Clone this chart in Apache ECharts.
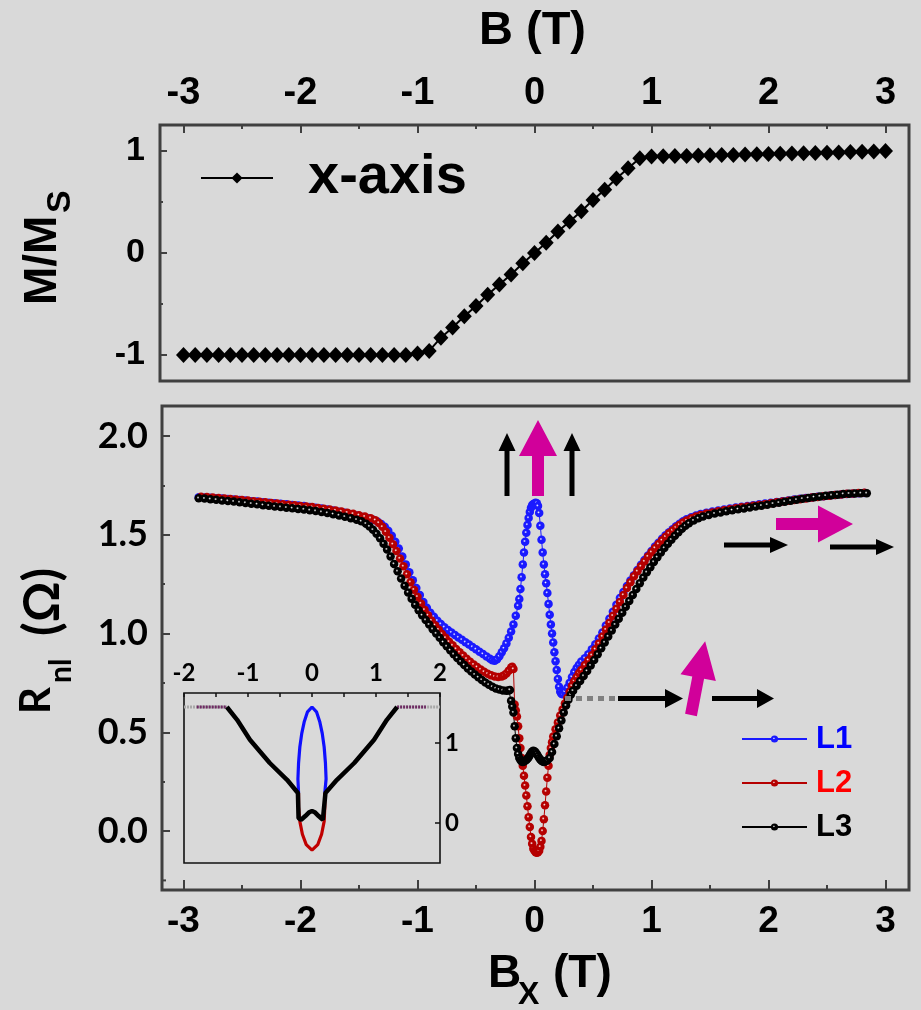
<!DOCTYPE html>
<html><head><meta charset="utf-8">
<script src="https://cdn.jsdelivr.net/npm/echarts@6/dist/echarts.min.js"></script>
<style>html,body{margin:0;padding:0;background:#d9d9d9}#c{width:921px;height:1010px}</style>
</head><body><div id="c"></div>
<script>
// ---------- data ----------
const B_TOP = [-3.0,-2.9,-2.8,-2.7,-2.6,-2.5,-2.4,-2.3,-2.2,-2.1,-2.0,-1.9,-1.8,-1.7,-1.6,-1.5,-1.4,-1.3,-1.2,-1.1,-1.0,-0.9,-0.8,-0.7,-0.6,-0.5,-0.4,-0.3,-0.2,-0.1,0.0,0.1,0.2,0.3,0.4,0.5,0.6,0.7,0.8,0.9,1.0,1.1,1.2,1.3,1.4,1.5,1.6,1.7,1.8,1.9,2.0,2.1,2.2,2.3,2.4,2.5,2.6,2.7,2.8,2.9,3.0];
const M_TOP = [-1,-1,-1,-1,-1,-1,-1,-1,-1,-1,-1,-1,-1,-1,-1,-1,-1,-1,-1,-1,-0.985,-0.96,-0.83,-0.73,-0.62,-0.52,-0.41,-0.31,-0.21,-0.10,0.0,0.10,0.21,0.31,0.41,0.52,0.62,0.73,0.83,0.93,0.945,0.948,0.95,0.952,0.955,0.958,0.96,0.962,0.965,0.967,0.97,0.972,0.975,0.977,0.98,0.983,0.986,0.99,0.993,0.996,1.0];

const L1 = [[-2.87,1.690],[-2.82,1.689],[-2.77,1.687],[-2.72,1.685],[-2.67,1.683],[-2.62,1.681],[-2.57,1.678],[-2.52,1.676],[-2.47,1.673],[-2.42,1.670],[-2.37,1.668],[-2.32,1.665],[-2.27,1.662],[-2.22,1.660],[-2.17,1.657],[-2.12,1.654],[-2.07,1.651],[-2.02,1.648],[-1.97,1.645],[-1.92,1.641],[-1.87,1.637],[-1.82,1.633],[-1.77,1.628],[-1.72,1.623],[-1.67,1.617],[-1.62,1.611],[-1.57,1.604],[-1.52,1.597],[-1.47,1.590],[-1.42,1.583],[-1.38,1.576],[-1.34,1.566],[-1.31,1.555],[-1.28,1.540],[-1.25,1.520],[-1.22,1.495],[-1.19,1.465],[-1.16,1.430],[-1.13,1.390],[-1.10,1.350],[-1.07,1.310],[-1.04,1.270],[-1.01,1.230],[-0.98,1.195],[-0.95,1.160],[-0.92,1.130],[-0.89,1.105],[-0.86,1.085],[-0.83,1.065],[-0.80,1.048],[-0.77,1.032],[-0.74,1.018],[-0.71,1.005],[-0.68,0.993],[-0.65,0.980],[-0.62,0.968],[-0.59,0.956],[-0.56,0.944],[-0.53,0.932],[-0.50,0.920],[-0.47,0.908],[-0.44,0.896],[-0.41,0.884],[-0.38,0.872],[-0.36,0.864],[-0.34,0.862],[-0.32,0.870],[-0.30,0.885],[-0.28,0.905],[-0.26,0.925],[-0.24,0.950],[-0.22,0.978],[-0.20,1.010],[-0.18,1.045],[-0.16,1.090],[-0.14,1.140],[-0.13,1.175],[-0.12,1.225],[-0.11,1.285],[-0.10,1.350],[-0.09,1.410],[-0.08,1.465],[-0.07,1.510],[-0.06,1.550],[-0.05,1.585],[-0.04,1.615],[-0.03,1.637],[-0.02,1.650],[-0.01,1.656],[0.00,1.658],[0.01,1.662],[0.02,1.660],[0.03,1.645],[0.04,1.610],[0.05,1.545],[0.06,1.475],[0.07,1.410],[0.08,1.350],[0.09,1.300],[0.10,1.255],[0.11,1.205],[0.12,1.150],[0.13,1.095],[0.14,1.045],[0.15,1.000],[0.16,0.955],[0.17,0.905],[0.18,0.860],[0.19,0.815],[0.20,0.770],[0.21,0.730],[0.22,0.705],[0.23,0.695],[0.24,0.693],[0.26,0.705],[0.28,0.725],[0.30,0.750],[0.32,0.780],[0.34,0.805],[0.36,0.825],[0.38,0.842],[0.40,0.858],[0.43,0.875],[0.46,0.895],[0.49,0.920],[0.52,0.945],[0.55,0.975],[0.58,1.005],[0.61,1.040],[0.64,1.075],[0.67,1.110],[0.70,1.145],[0.73,1.180],[0.76,1.210],[0.79,1.240],[0.82,1.268],[0.85,1.295],[0.88,1.322],[0.91,1.348],[0.94,1.372],[0.97,1.395],[1.00,1.418],[1.03,1.440],[1.06,1.460],[1.09,1.480],[1.12,1.497],[1.15,1.513],[1.18,1.528],[1.21,1.543],[1.24,1.556],[1.27,1.568],[1.30,1.578],[1.34,1.589],[1.38,1.598],[1.42,1.605],[1.47,1.612],[1.52,1.618],[1.57,1.623],[1.62,1.628],[1.67,1.633],[1.72,1.638],[1.77,1.642],[1.82,1.646],[1.87,1.650],[1.92,1.654],[1.97,1.658],[2.02,1.662],[2.07,1.666],[2.12,1.670],[2.17,1.674],[2.22,1.678],[2.27,1.682],[2.32,1.686],[2.37,1.689],[2.42,1.692],[2.47,1.695],[2.52,1.698],[2.57,1.701],[2.62,1.704],[2.67,1.706],[2.72,1.708],[2.77,1.710],[2.82,1.711]];

const L2 = [[-2.85,1.693],[-2.80,1.691],[-2.75,1.689],[-2.70,1.686],[-2.65,1.684],[-2.60,1.681],[-2.55,1.678],[-2.50,1.676],[-2.45,1.673],[-2.40,1.670],[-2.35,1.667],[-2.30,1.664],[-2.25,1.661],[-2.20,1.658],[-2.15,1.655],[-2.10,1.652],[-2.05,1.649],[-2.00,1.646],[-1.95,1.643],[-1.90,1.640],[-1.85,1.636],[-1.80,1.632],[-1.75,1.628],[-1.70,1.623],[-1.65,1.618],[-1.60,1.612],[-1.55,1.606],[-1.50,1.599],[-1.45,1.592],[-1.40,1.584],[-1.36,1.574],[-1.33,1.560],[-1.30,1.540],[-1.27,1.515],[-1.24,1.485],[-1.21,1.452],[-1.18,1.418],[-1.15,1.380],[-1.12,1.340],[-1.09,1.300],[-1.06,1.260],[-1.03,1.222],[-1.00,1.186],[-0.97,1.152],[-0.94,1.120],[-0.91,1.092],[-0.88,1.066],[-0.85,1.042],[-0.82,1.020],[-0.79,0.998],[-0.76,0.978],[-0.73,0.958],[-0.70,0.940],[-0.67,0.922],[-0.64,0.905],[-0.61,0.888],[-0.58,0.872],[-0.55,0.857],[-0.52,0.843],[-0.49,0.830],[-0.46,0.818],[-0.43,0.806],[-0.40,0.796],[-0.37,0.788],[-0.34,0.782],[-0.31,0.780],[-0.28,0.782],[-0.26,0.788],[-0.24,0.798],[-0.22,0.812],[-0.20,0.828],[-0.19,0.832],[-0.18,0.820],[-0.17,0.640],[-0.16,0.610],[-0.15,0.580],[-0.14,0.530],[-0.13,0.470],[-0.12,0.420],[-0.11,0.370],[-0.10,0.330],[-0.09,0.280],[-0.08,0.230],[-0.07,0.180],[-0.06,0.125],[-0.05,0.070],[-0.04,0.020],[-0.03,-0.030],[-0.02,-0.065],[-0.01,-0.090],[0.00,-0.100],[0.01,-0.108],[0.02,-0.110],[0.03,-0.108],[0.04,-0.100],[0.05,-0.080],[0.06,-0.050],[0.07,0.000],[0.08,0.060],[0.09,0.130],[0.10,0.200],[0.11,0.270],[0.12,0.330],[0.13,0.385],[0.14,0.420],[0.15,0.450],[0.16,0.478],[0.18,0.515],[0.20,0.550],[0.22,0.585],[0.24,0.615],[0.26,0.645],[0.28,0.675],[0.30,0.705],[0.32,0.735],[0.34,0.760],[0.36,0.780],[0.38,0.800],[0.40,0.815],[0.43,0.840],[0.46,0.865],[0.49,0.890],[0.52,0.920],[0.55,0.950],[0.58,0.985],[0.61,1.020],[0.64,1.055],[0.67,1.090],[0.70,1.125],[0.73,1.160],[0.76,1.195],[0.79,1.230],[0.82,1.260],[0.85,1.290],[0.88,1.315],[0.91,1.340],[0.94,1.365],[0.97,1.390],[1.00,1.412],[1.03,1.433],[1.06,1.453],[1.09,1.472],[1.12,1.490],[1.15,1.507],[1.18,1.522],[1.21,1.537],[1.24,1.550],[1.27,1.562],[1.30,1.572],[1.34,1.583],[1.38,1.592],[1.42,1.600],[1.47,1.607],[1.52,1.613],[1.57,1.619],[1.62,1.624],[1.67,1.629],[1.72,1.634],[1.77,1.639],[1.82,1.643],[1.87,1.647],[1.92,1.651],[1.97,1.655],[2.02,1.659],[2.07,1.664],[2.12,1.668],[2.17,1.672],[2.22,1.676],[2.27,1.680],[2.32,1.684],[2.37,1.688],[2.42,1.691],[2.47,1.695],[2.52,1.698],[2.57,1.701],[2.62,1.704],[2.67,1.707],[2.72,1.709],[2.77,1.711],[2.82,1.713]];

const L3 = [[-2.87,1.685],[-2.82,1.683],[-2.77,1.680],[-2.72,1.677],[-2.67,1.674],[-2.62,1.671],[-2.57,1.668],[-2.52,1.664],[-2.47,1.661],[-2.42,1.657],[-2.37,1.654],[-2.32,1.650],[-2.27,1.647],[-2.22,1.643],[-2.17,1.640],[-2.12,1.637],[-2.07,1.634],[-2.02,1.631],[-1.97,1.628],[-1.92,1.624],[-1.87,1.620],[-1.82,1.615],[-1.77,1.610],[-1.72,1.604],[-1.67,1.598],[-1.62,1.591],[-1.57,1.584],[-1.52,1.576],[-1.48,1.568],[-1.44,1.556],[-1.41,1.542],[-1.38,1.525],[-1.35,1.505],[-1.32,1.482],[-1.29,1.455],[-1.26,1.425],[-1.23,1.390],[-1.20,1.352],[-1.17,1.315],[-1.14,1.278],[-1.11,1.242],[-1.08,1.208],[-1.05,1.176],[-1.02,1.146],[-0.99,1.118],[-0.96,1.092],[-0.93,1.068],[-0.90,1.045],[-0.87,1.022],[-0.84,1.000],[-0.81,0.978],[-0.78,0.956],[-0.75,0.935],[-0.72,0.915],[-0.69,0.895],[-0.66,0.876],[-0.63,0.858],[-0.60,0.840],[-0.57,0.823],[-0.54,0.807],[-0.51,0.792],[-0.48,0.778],[-0.45,0.765],[-0.42,0.752],[-0.39,0.740],[-0.36,0.730],[-0.33,0.722],[-0.30,0.716],[-0.27,0.712],[-0.24,0.710],[-0.22,0.712],[-0.21,0.714],[-0.20,0.660],[-0.19,0.630],[-0.18,0.600],[-0.17,0.530],[-0.16,0.470],[-0.15,0.420],[-0.14,0.390],[-0.13,0.370],[-0.12,0.360],[-0.11,0.352],[-0.10,0.350],[-0.09,0.352],[-0.08,0.356],[-0.07,0.360],[-0.06,0.366],[-0.05,0.374],[-0.04,0.384],[-0.03,0.394],[-0.02,0.402],[-0.01,0.406],[0.00,0.404],[0.01,0.398],[0.02,0.390],[0.03,0.380],[0.04,0.370],[0.05,0.362],[0.06,0.356],[0.07,0.352],[0.08,0.350],[0.09,0.352],[0.10,0.354],[0.11,0.358],[0.13,0.370],[0.15,0.400],[0.17,0.440],[0.19,0.480],[0.21,0.520],[0.23,0.560],[0.25,0.600],[0.27,0.635],[0.29,0.665],[0.31,0.690],[0.33,0.710],[0.36,0.735],[0.39,0.760],[0.42,0.785],[0.45,0.810],[0.48,0.838],[0.51,0.866],[0.54,0.895],[0.57,0.925],[0.60,0.955],[0.63,0.985],[0.66,1.015],[0.69,1.045],[0.72,1.075],[0.75,1.105],[0.78,1.135],[0.81,1.165],[0.84,1.195],[0.87,1.225],[0.90,1.255],[0.93,1.283],[0.96,1.310],[0.99,1.336],[1.02,1.362],[1.05,1.386],[1.08,1.410],[1.11,1.433],[1.14,1.455],[1.17,1.475],[1.20,1.495],[1.23,1.513],[1.26,1.530],[1.29,1.545],[1.32,1.558],[1.36,1.572],[1.40,1.583],[1.44,1.592],[1.49,1.600],[1.54,1.607],[1.59,1.613],[1.64,1.619],[1.69,1.624],[1.74,1.629],[1.79,1.633],[1.84,1.638],[1.89,1.643],[1.94,1.647],[1.99,1.652],[2.04,1.657],[2.09,1.662],[2.14,1.667],[2.19,1.672],[2.24,1.677],[2.29,1.682],[2.34,1.686],[2.39,1.690],[2.44,1.694],[2.49,1.697],[2.54,1.700],[2.59,1.703],[2.64,1.706],[2.69,1.708],[2.74,1.709],[2.79,1.710],[2.84,1.710]];

// inset (schematic) curves
const INS_FLAT_L = [[-2.0,1.45],[-1.33,1.45]];
const INS_FLAT_R = [[1.33,1.45],[2.0,1.45]];
const INS_STRIPE_L = [[-1.80,1.45],[-1.33,1.45]];
const INS_STRIPE_R = [[1.33,1.45],[1.78,1.45]];
const INS_L1 = [[-0.21,0.375],[-0.22,0.55],[-0.21,0.75],[-0.19,0.95],[-0.16,1.12],[-0.12,1.27],[-0.07,1.39],[0,1.45],[0.07,1.39],[0.12,1.27],[0.16,1.12],[0.19,0.95],[0.21,0.75],[0.22,0.55],[0.20,0.375]];
const INS_L2 = [[-0.21,0.375],[-0.21,0.2],[-0.19,0.02],[-0.15,-0.14],[-0.09,-0.27],[0,-0.34],[0.09,-0.27],[0.15,-0.14],[0.19,0.02],[0.20,0.2],[0.20,0.375]];
const INS_L3 = [[-1.33,1.45],[-1.17,1.29],[-0.97,1.04],[-0.66,0.75],[-0.39,0.54],[-0.22,0.375],[-0.21,0.06],[-0.17,0.04],[-0.10,0.09],[-0.05,0.13],[0,0.15],[0.05,0.13],[0.10,0.09],[0.17,0.04],[0.20,0.06],[0.21,0.375],[0.39,0.54],[0.66,0.75],[0.97,1.04],[1.17,1.29],[1.33,1.45]];

// axes ranges / ticks
const X_RANGE = [-3, 3], X_STEP = 1;
const M_RANGE = [-1, 1], M_STEP = 1;
const R_RANGE = [0, 2], R_STEP = 0.5;
const INS_X_RANGE = [-2, 2], INS_Y_RANGE = [0, 1];

// ---------- styles ----------
const ARIAL = "'Liberation Sans',Arial,sans-serif";
const CAL = "Lato,'Open Sans',sans-serif";
const FRAME = '#404040';
const C_BLUE = '#1a1aff', C_RED = '#b50000', C_BLACK = '#000000', MAG = '#d1009a';

function bead(c){
  return {type:'radial', x:0.42, y:0.42, r:0.6, colorStops:[{offset:0,color:'#ffffff'},{offset:0.28,color:c},{offset:1,color:c}]};
}
const tickStyle = {color:FRAME, width:2};

const chart = echarts.init(document.getElementById('c'), null, {renderer:'canvas'});

function arrowUp(cx, yBase, yTip, shaftW, headW, headL, color){
  return {type:'polygon', shape:{points:[[cx-shaftW/2,yBase],[cx+shaftW/2,yBase],[cx+shaftW/2,yTip+headL],[cx+headW/2,yTip+headL],[cx,yTip],[cx-headW/2,yTip+headL],[cx-shaftW/2,yTip+headL]]}, style:{fill:color}, z:10};
}
function arrowRight(cy, xBase, xTip, shaftW, headW, headL, color){
  return {type:'polygon', shape:{points:[[xBase,cy-shaftW/2],[xTip-headL,cy-shaftW/2],[xTip-headL,cy-headW/2],[xTip,cy],[xTip-headL,cy+headW/2],[xTip-headL,cy+shaftW/2],[xBase,cy+shaftW/2]]}, style:{fill:color}, z:10};
}
function label(text, x, y, size, fam, rot){
  return {type:'text', x, y, rotation:rot||0, style:{text, fontSize:size, fontWeight:'bold', fontFamily:fam, fill:'#000', align:'left', verticalAlign:'middle'}};
}
const UP = Math.PI/2;

const graphics = [
  // frames
  {type:'rect', shape:{x:160,y:125,width:749,height:256}, style:{fill:'none',stroke:FRAME,lineWidth:3}, z:1},
  {type:'rect', shape:{x:162,y:406,width:747,height:484}, style:{fill:'none',stroke:FRAME,lineWidth:3}, z:1},
  {type:'rect', shape:{x:184,y:693,width:256,height:170}, style:{fill:'none',stroke:'#111',lineWidth:1.6}, z:1},
  {type:'line', shape:{x1:162,y1:880.4,x2:166,y2:880.4}, style:{stroke:FRAME,lineWidth:2}, z:1},
  // titles
  label('B (T)', 479, 31, 47, ARIAL),
  label('B', 488, 974, 46, ARIAL),
  label('X', 518, 995, 32, ARIAL),
  label('(T)', 553, 974, 46, ARIAL),
  label('M/M', 43, 305, 46, ARIAL, UP),
  label('S', 61, 213, 34, ARIAL, UP),
  label('R', 36, 714, 42, CAL, UP),
  label('nl', 61, 683, 30, CAL, UP),
  label('(Ω)', 43, 636, 50, CAL, UP),
  // arrows near the peak
  arrowUp(507, 496, 433, 5, 17, 18, '#000'),
  arrowUp(538, 496, 420, 12, 38, 36, MAG),
  arrowUp(572, 496, 433, 5, 17, 18, '#000'),
  // upper right arrows
  arrowRight(524, 776, 853, 12, 37, 35, MAG),
  arrowRight(545, 724, 788, 5, 16, 18, '#000'),
  arrowRight(547, 830, 894, 5, 16, 18, '#000'),
  // middle right arrows
  {type:'line', shape:{x1:565,y1:698.5,x2:618,y2:698.5}, style:{stroke:'#808080',lineWidth:5,lineDash:[6,5]}, z:10},
  arrowRight(698.5, 618, 683, 5, 19, 18, '#000'),
  arrowRight(698.5, 712, 774, 5, 19, 17, '#000'),
  {type:'group', x:691, y:715, rotation:-0.19, z:10, children:[
    {type:'polygon', shape:{points:[[-6,0],[6,0],[6,-38],[18,-38],[0,-75],[-18,-38],[-6,-38]]}, style:{fill:MAG}}
  ]}
];

const lineSeries = (name, data, color, xi) => ({
  name, type:'line', data, xAxisIndex:xi, yAxisIndex:xi, clip:false,
  symbol:'circle', symbolSize:8.5, showAllSymbol:true,
  lineStyle:{color, width:1}, itemStyle:{color:bead(color)}, z:3
});
const insetLine = (data, color, width, dash) => ({
  type:'line', data, xAxisIndex:2, yAxisIndex:2, clip:false, symbol:'none',
  lineStyle:{color, width, type: dash || 'solid'}, z:4
});
const noLine = {show:false, onZero:false};

const option = {
  backgroundColor:'#d9d9d9',
  animation:false,
  grid:[
    {left:183.5, top:151, width:702, height:204},
    {left:183.5, top:436, width:702, height:395},
    {left:184, top:743, width:256, height:80}
  ],
  xAxis:[
    {gridIndex:0, type:'value', position:'top', offset:26, min:X_RANGE[0], max:X_RANGE[1], interval:X_STEP,
     axisLine:noLine, splitLine:{show:false},
     axisTick:{show:true, inside:true, length:8, lineStyle:tickStyle},
     minorTick:{show:true, splitNumber:2, length:4, lineStyle:tickStyle},
     axisLabel:{margin:12, fontSize:38, fontWeight:'bold', fontFamily:ARIAL, color:'#000'}},
    {gridIndex:1, type:'value', position:'bottom', offset:59, min:X_RANGE[0], max:X_RANGE[1], interval:X_STEP,
     axisLine:noLine, splitLine:{show:false},
     axisTick:{show:true, inside:true, length:10, lineStyle:tickStyle},
     minorTick:{show:true, splitNumber:2, length:5, lineStyle:tickStyle},
     axisLabel:{margin:13, fontSize:37, fontWeight:'bold', fontFamily:ARIAL, color:'#000'}},
    {gridIndex:2, type:'value', position:'top', offset:50, min:INS_X_RANGE[0], max:INS_X_RANGE[1], interval:1,
     axisLine:noLine, splitLine:{show:false},
     axisTick:{show:true, inside:true, length:4, lineStyle:{color:'#111',width:1.5}},
     minorTick:{show:true, splitNumber:2, length:4, lineStyle:{color:'#111',width:1.5}},
     axisLabel:{margin:8, fontSize:24, fontWeight:'bold', fontFamily:CAL, color:'#000'}}
  ],
  yAxis:[
    {gridIndex:0, type:'value', position:'left', offset:23.5, min:M_RANGE[0], max:M_RANGE[1], interval:M_STEP,
     axisLine:noLine, splitLine:{show:false},
     axisTick:{show:true, inside:true, length:7, lineStyle:tickStyle},
     minorTick:{show:true, splitNumber:2, length:3, lineStyle:tickStyle},
     axisLabel:{margin:15, fontSize:34, fontWeight:'bold', fontFamily:ARIAL, color:'#000'}},
    {gridIndex:1, type:'value', position:'left', offset:21.5, min:R_RANGE[0], max:R_RANGE[1], interval:R_STEP,
     axisLine:noLine, splitLine:{show:false},
     axisTick:{show:true, inside:true, length:8, lineStyle:tickStyle},
     minorTick:{show:true, splitNumber:2, length:3, lineStyle:tickStyle},
     axisLabel:{margin:14, fontSize:36, fontWeight:'bold', fontFamily:CAL, color:'#000', formatter:v=>v.toFixed(1)}},
    {gridIndex:2, type:'value', position:'right', offset:0, min:INS_Y_RANGE[0], max:INS_Y_RANGE[1], interval:1,
     axisLine:noLine, splitLine:{show:false},
     axisTick:{show:true, inside:true, length:5, lineStyle:{color:'#111',width:1.5}},
     axisLabel:{margin:5, fontSize:24, fontWeight:'bold', fontFamily:CAL, color:'#000'}}
  ],
  legend:[
    {data:['x-axis'], left:200, top:150, padding:0, itemWidth:72, itemHeight:14, selectedMode:false,
     textStyle:{fontSize:56, fontWeight:'bold', fontFamily:ARIAL, color:'#000', padding:[0,0,10,30]}},
    {data:[{name:'L1',textStyle:{color:'#0000ff'}},{name:'L2',textStyle:{color:'#ff0000'}},{name:'L3',textStyle:{color:'#000'}}],
     orient:'vertical', left:741, top:721, padding:0, itemWidth:65, itemHeight:9, itemGap:8, selectedMode:false,
     textStyle:{fontSize:31, lineHeight:36, fontWeight:'bold', fontFamily:ARIAL, padding:[0,0,0,4]}}
  ],
  graphic:graphics,
  series:[
    {name:'x-axis', type:'line', xAxisIndex:0, yAxisIndex:0, clip:false,
     data:B_TOP.map((b,i)=>[b, M_TOP[i]]),
     symbol:'diamond', symbolSize:[15,16], showAllSymbol:true,
     lineStyle:{color:'#000', width:2}, itemStyle:{color:'#000'}, z:3},
    lineSeries('L1', L1, C_BLUE, 1),
    lineSeries('L2', L2, C_RED, 1),
    lineSeries('L3', L3, C_BLACK, 1),
    insetLine(INS_FLAT_L, '#a8a8a8', 3, [2,1]),
    insetLine(INS_FLAT_R, '#a8a8a8', 3, [2,1]),
    insetLine(INS_STRIPE_L, '#6e2a63', 3, [2,1]),
    insetLine(INS_STRIPE_R, '#6e2a63', 3, [2,1]),
    insetLine(INS_L1, '#1010ff', 3.2),
    insetLine(INS_L2, '#c00000', 3.2),
    insetLine(INS_L3, '#000000', 4.5)
  ]
};
chart.setOption(option);
</script>
</body></html>
